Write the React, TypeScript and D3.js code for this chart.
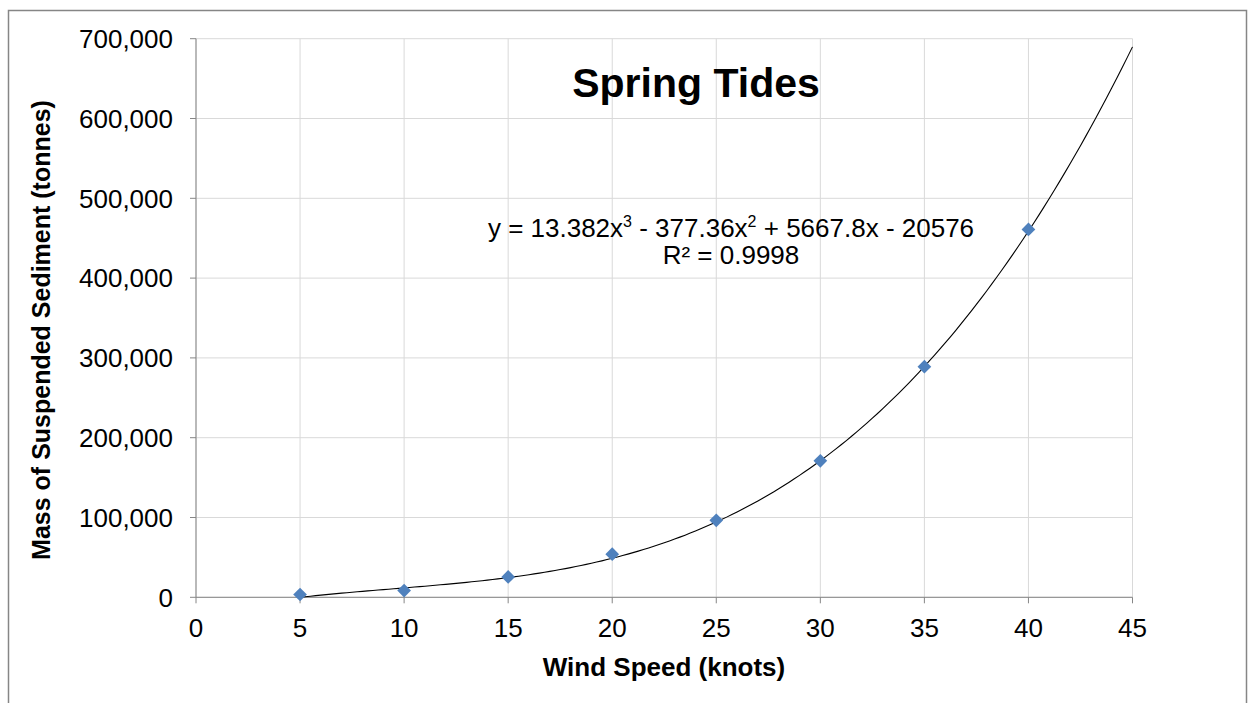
import React from "react";
import * as d3 from "d3";

const windSpeed = [5, 10, 15, 20, 25, 30, 35, 40];
const sediment = [3500, 8500, 25500, 54000, 96500, 171000, 289000, 461000];
const xTicks = [0, 5, 10, 15, 20, 25, 30, 35, 40, 45];
const yTicks = [0, 100000, 200000, 300000, 400000, 500000, 600000, 700000];
const trendCoefs = [13.382, -377.36, 5667.8, -20576]; // x^3, x^2, x, c
const trendRange = [5, 45];

const W = 1249;
const H = 703;
const FONT = "'Liberation Sans', Arial, sans-serif";

export default function App() {
  const x = d3.scaleLinear().domain([0, 45]).range([196, 1132.5]);
  const y = d3.scaleLinear().domain([0, 700000]).range([597.3, 38.7]);
  const fmt = d3.format(",");

  const poly = (v: number) =>
    trendCoefs[0] * v * v * v + trendCoefs[1] * v * v + trendCoefs[2] * v + trendCoefs[3];
  const trendPts = d3.range(trendRange[0], trendRange[1] + 0.001, 0.25).map((v) => [v, poly(v)] as [number, number]);
  const line = d3
    .line<[number, number]>()
    .x((d) => x(d[0]))
    .y((d) => y(d[1]))
    .curve(d3.curveLinear);

  const diamond = d3.symbol().type(d3.symbolDiamond2).size(120)() as string;

  return (
    <svg width={W} height={H} style={{ position: "absolute", left: 0, top: 0 }}>
      <rect x={0} y={0} width={W} height={H} fill="#fff" />
      <rect x={8.5} y={10.5} width={1238} height={720} fill="#fff" stroke="#868686" strokeWidth={1.5} />
      {/* gridlines */}
      {yTicks.map((t) => (
        <line key={"gy" + t} x1={x(0)} x2={x(45)} y1={y(t)} y2={y(t)} stroke="#d9d9d9" strokeWidth={1} />
      ))}
      {xTicks.map((t) => (
        <line key={"gx" + t} x1={x(t)} x2={x(t)} y1={y(0)} y2={y(700000)} stroke="#d9d9d9" strokeWidth={1} />
      ))}
      {/* axes */}
      <line x1={x(0)} x2={x(0)} y1={y(0)} y2={y(700000)} stroke="#868686" strokeWidth={1} />
      <line x1={x(0)} x2={x(45)} y1={y(0)} y2={y(0)} stroke="#868686" strokeWidth={1} />
      {yTicks.map((t) => (
        <g key={"ty" + t}>
          <line x1={x(0) - 6} x2={x(0)} y1={y(t)} y2={y(t)} stroke="#868686" />
          <text x={173} y={y(t)} dy="0.36em" textAnchor="end" fontFamily={FONT} fontSize={26} fill="#000">
            {fmt(t)}
          </text>
        </g>
      ))}
      {xTicks.map((t) => (
        <g key={"tx" + t}>
          <line x1={x(t)} x2={x(t)} y1={y(0)} y2={y(0) + 6} stroke="#868686" />
          <text x={x(t)} y={637} textAnchor="middle" fontFamily={FONT} fontSize={26} fill="#000">
            {t}
          </text>
        </g>
      ))}
      {/* trendline */}
      <path d={line(trendPts) || ""} fill="none" stroke="#000" strokeWidth={1.1} />
      {/* markers */}
      {windSpeed.map((w, i) => (
        <path key={"m" + w} d={diamond} transform={`translate(${x(w)},${y(sediment[i])})`} fill="#4F81BD" />
      ))}
      {/* title */}
      <text x={696} y={97} textAnchor="middle" fontFamily={FONT} fontSize={41} fontWeight="bold" fill="#000">
        Spring Tides
      </text>
      {/* equation */}
      <text x={731} y={237} textAnchor="middle" fontFamily={FONT} fontSize={26} fill="#000">
        y = 13.382x<tspan fontSize={16} dy={-10}>3</tspan>
        <tspan dy={10}> - 377.36x</tspan>
        <tspan fontSize={16} dy={-10}>2</tspan>
        <tspan dy={10}> + 5667.8x - 20576</tspan>
      </text>
      <text x={731} y={264} textAnchor="middle" fontFamily={FONT} fontSize={26} fill="#000">
        R² = 0.9998
      </text>
      {/* axis titles */}
      <text x={664} y={676} textAnchor="middle" fontFamily={FONT} fontSize={26} fontWeight="bold" fill="#000">
        Wind Speed (knots)
      </text>
      <text
        transform={`translate(50,330) rotate(-90)`}
        textAnchor="middle"
        fontFamily={FONT}
        fontSize={25}
        fontWeight="bold"
        fill="#000"
      >
        Mass of Suspended Sediment (tonnes)
      </text>
    </svg>
  );
}
